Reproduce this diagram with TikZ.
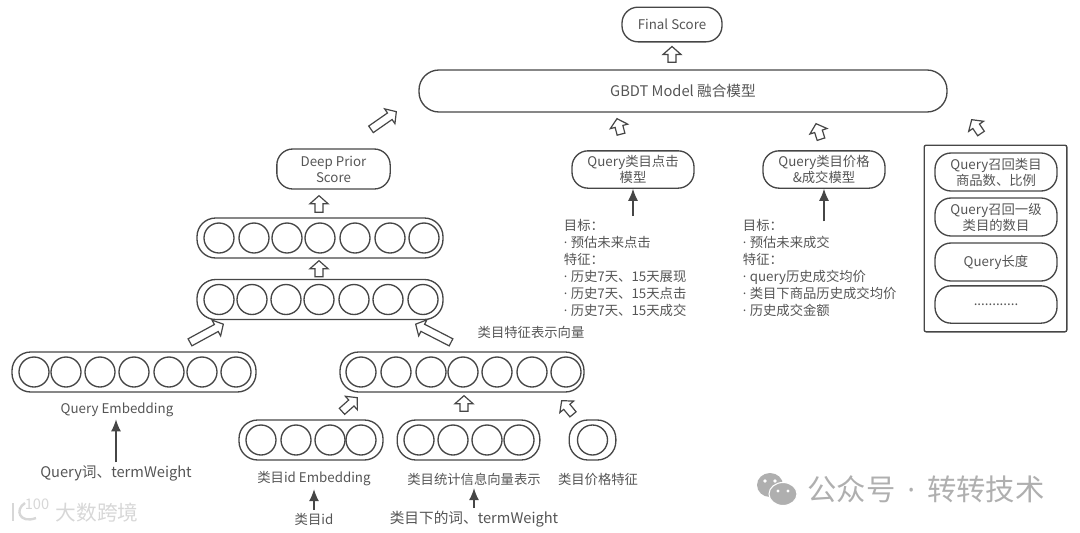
\documentclass[tikz,border=0pt]{standalone}
\usepackage{fontspec}
\setmainfont{Noto Sans CJK SC}
\newfontfamily\dotfont{Open Sans}
\usepackage{xcolor}
\usetikzlibrary{
    arrows.meta,
    calc
}
\definecolor{LineGray}{RGB}{70,70,70}
\definecolor{TextGray}{RGB}{85,85,85}
\definecolor{MarkGray}{RGB}{175,175,175}
\definecolor{FaintGray}{RGB}{215,215,215}
\newcommand{\itemdot}{{\dotfont·}\hspace{2.5pt}}
\tikzset{
  pill/.style     = {draw=LineGray, line width=1pt, rounded corners=12pt, inner sep=0pt,
                     align=center, text=TextGray, font=\fontsize{10}{12}\selectfont},
  rowbox/.style   = {pill, rounded corners=14pt, minimum height=30pt},
  cell/.style     = {draw=LineGray, line width=1pt, circle, minimum size=22.5pt, inner sep=0pt},
  label/.style    = {text=TextGray, inner sep=2pt, font=\fontsize{10}{12}\selectfont},
  note/.style     = {label, anchor=north west, align=left, font=\fontsize{10}{12.75}\selectfont},
  arr/.style      = {-{Latex[length=9pt,width=7.5pt]}, LineGray, line width=0.9pt},
  hollow/.style   = {draw=LineGray, fill=white, line width=0.9pt, to path={
      let \p1=($(\tikztotarget)!6pt!(\tikztostart)$) in
      ($(\tikztostart)!3pt!90:(\tikztotarget)$) -- ($(\p1)!3pt!90:(\tikztotarget)$)
      -- ($(\p1)!6.75pt!90:(\tikztotarget)$) -- (\tikztotarget)
      -- ($(\p1)!6.75pt!-90:(\tikztotarget)$) -- ($(\p1)!3pt!-90:(\tikztotarget)$)
      -- ($(\tikztostart)!3pt!-90:(\tikztotarget)$) -- cycle}}
}
\begin{document}
\begin{tikzpicture}[x=0.75pt, y=-0.75pt]
\path[use as bounding box] (0,0) rectangle (1080,532);
% top of the picture
\node[pill, minimum width=75pt, minimum height=26pt] (finalscore) at (672,24.5) {Final Score};
\node[pill, rounded corners=15pt, minimum width=396pt, minimum height=31.5pt, font=\fontsize{11}{13}\selectfont] (gbdt) at (683,91) {GBDT Model 融合模型};
\node[pill, minimum width=85pt, minimum height=30pt] (deepprior) at (333.5,169) {Deep Prior\\Score};
\node[pill, minimum width=91.5pt, minimum height=28pt] (click) at (633,169.5) {Query类目点击\\模型};
\node[pill, minimum width=91.5pt, minimum height=28pt] (price) at (824,169.5) {Query类目价格\\\&成交模型};
% right column
\node[draw=LineGray, line width=1pt, rounded corners=1.5pt, minimum width=107pt, minimum height=140pt, inner sep=0pt] (extras) at (995.5,238.5) {};
\node[pill, minimum width=91.5pt, minimum height=28.5pt] (recall) at (996,172) {Query召回类目\\商品数、比例};
\node[pill, minimum width=91.5pt, minimum height=28.5pt] (level) at (996,217) {Query召回一级\\类目的数目};
\node[pill, minimum width=91.5pt, minimum height=28.5pt] (length) at (996,262) {Query长度};
\node[pill, minimum width=91.5pt, minimum height=28pt] (others) at (996,304.5) {............};
% notes under the two models
\node[note] (clicknote) at (561,216) {目标：\\\itemdot 预估未来点击\\特征：\\\itemdot 历史7天、15天展现\\\itemdot 历史7天、15天点击\\\itemdot 历史7天、15天成交};
\node[note] (pricenote) at (740,216) {目标：\\\itemdot 预估未来成交\\特征：\\\itemdot query历史成交均价\\\itemdot 类目下商品历史成交均价\\\itemdot 历史成交金额};
% rows of cells
\node[rowbox, minimum width=184.5pt] (hiddentop) at (320,238) {};
\foreach \x in {219,254,287,320,355,390,424}
  \node[cell] (hiddentop-\x) at (\x,238) {};
\node[rowbox, minimum width=184.5pt] (hiddenlow) at (320,299.5) {};
\foreach \x in {219,252,286,319,354,388,423}
  \node[cell] (hiddenlow-\x) at (\x,299.5) {};
\node[rowbox, minimum width=183pt] (queryrow) at (134,372) {};
\foreach \x in {34,66,100,134,169,202,236}
  \node[cell] (queryrow-\x) at (\x,372) {};
\node[rowbox, minimum width=183pt] (catrow) at (462,372) {};
\foreach \x in {361,396,431,463,497,532,566}
  \node[cell] (catrow-\x) at (\x,372) {};
\node[rowbox, minimum width=108pt] (idrow) at (311,440) {};
\foreach \x in {261,296,330,361}
  \node[cell] (idrow-\x) at (\x,440) {};
\node[rowbox, minimum width=107pt] (statrow) at (468.5,440) {};
\foreach \x in {419,453,487,519}
  \node[cell] (statrow-\x) at (\x,440) {};
\node[rowbox, minimum width=35pt] (pricerow) at (592.5,440) {};
\node[cell] (pricerow-1) at (592.5,440) {};
% labels
\node[label] (catvector) at (531,332) {类目特征表示向量};
\node[label] (queryemb) at (117,409.5) {Query Embedding};
\node[label, font=\fontsize{11}{13}\selectfont] (queryword) at (116,473) {Query词、termWeight};
\node[label] (idemb) at (314,479) {类目id Embedding};
\node[label] (statvec) at (474,479) {类目统计信息向量表示};
\node[label] (pricefeat) at (598,479) {类目价格特征};
\node[label] (catid) at (314,519) {类目id};
\node[label, font=\fontsize{11}{13}\selectfont] (catword) at (474,519) {类目下的词、termWeight};
% thin arrows
\draw[arr] (queryword.north) -- (queryemb.south -| queryword.north);
\draw[arr] (catid.north) -- (idemb.south -| catid.north);
\draw[arr] (catword.north) -- (statvec.south -| catword.north);
\draw[arr] (click.south |- clicknote.north) -- (click.south);
\draw[arr] ([yshift=-4pt]price.south |- pricenote.north) -- (price.south);
% hollow arrows
\path[hollow] ([shift={(-11,-7)}]gbdt.north) to ([shift={(0,4)}]finalscore.south);
\path[hollow] ([shift={(37.5,-19)}]deepprior.north) to ([shift={(-22,-1)}]gbdt.south west);
\path[hollow] ([shift={(-12,-16)}]click.north) to ([shift={(-66,6)}]gbdt.south);
\path[hollow] ([shift={(-3,-11)}]price.north) to ([shift={(133,11)}]gbdt.south);
\path[hollow] ([shift={(-14.5,-11)}]extras.north) to ([shift={(24,7)}]gbdt.south east);
\path[hollow] ([shift={(-1,-5)}]hiddentop.north) to ([shift={(-14.5,6)}]deepprior.south);
\path[hollow] ([shift={(-1,-2)}]hiddenlow.north) to ([shift={(-1,2)}]hiddentop.south);
\path[hollow] ([shift={(56,-9)}]queryrow.north) to ([shift={(27,4)}]hiddenlow.south west);
\path[hollow] ([shift={(-11,-9)}]catrow.north) to ([shift={(-28,4)}]hiddenlow.south east);
\path[hollow] ([shift={(31,-8)}]idrow.north) to ([shift={(18,5)}]catrow.south west);
\path[hollow] ([shift={(-4.5,-8)}]statrow.north) to ([shift={(2,3)}]catrow.south);
\path[hollow] ([shift={(-19.5,-5)}]pricerow.north) to ([shift={(-23,8)}]catrow.south east);
% marks at the bottom
\node[text=FaintGray, inner sep=0pt, font=\fontsize{15.5}{18}\selectfont] (markleft) at (97,513) {大数跨境};
\node[text=FaintGray, inner sep=0pt, font=\fontsize{11}{12}\selectfont] (marklogo) at (37,504) {100};
\draw[FaintGray, line width=1.8pt] (13,503) -- (13,521);
\draw[FaintGray, line width=1.8pt] (25,503) .. controls (14,510) and (20,524) .. (36,518);
\fill[MarkGray] (770,485) ellipse[x radius=13, y radius=12];
\fill[MarkGray, draw=white, line width=0.8pt] (783,494) ellipse[x radius=14, y radius=11.5];
\fill[white] (765,481) circle[radius=1.8] (775,481) circle[radius=1.8] (778,491) circle[radius=1.6] (788,491) circle[radius=1.6];
\node[text=MarkGray, inner sep=0pt, font=\fontsize{22}{24}\selectfont] (markright) at (926,489) {公众号\hspace{9pt}{\dotfont·}\hspace{9pt}转转技术};
\end{tikzpicture}
\end{document}
